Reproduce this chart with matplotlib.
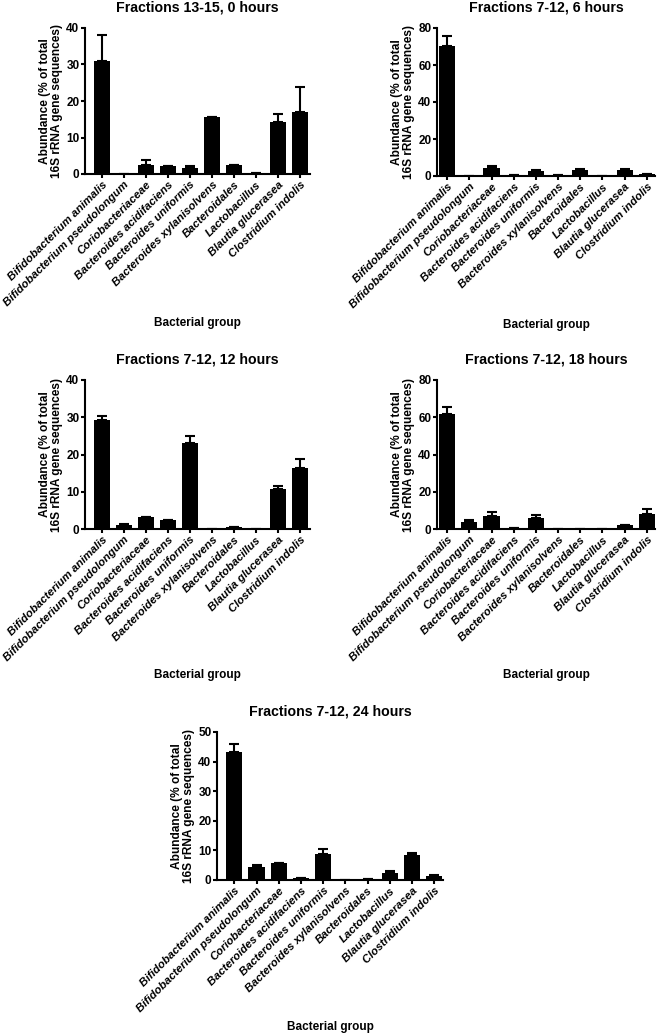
import numpy as np
from matplotlib import pyplot as plt

plt.rcParams['font.family'] = ['Liberation Sans', 'DejaVu Sans']
plt.rcParams['font.weight'] = 'bold'

groups = ['Bifidobacterium animalis', 'Bifidobacterium pseudolongum',
          'Coriobacteriaceae', 'Bacteroides acidifaciens', 'Bacteroides uniformis',
          'Bacteroides xylanisolvens', 'Bacteroidales', 'Lactobacillus',
          'Blautia glucerasea', 'Clostridium indolis']

titles = ['Fractions 13-15, 0 hours', 'Fractions 7-12, 6 hours',
          'Fractions 7-12, 12 hours', 'Fractions 7-12, 18 hours',
          'Fractions 7-12, 24 hours']

# mean abundance (%) and upper error (SEM) per panel
mean_0h = [31.0, 0.0, 2.5, 2.1, 1.6, 15.5, 2.5, 0.35, 14.3, 16.9]
err_0h = [7.0, 0.0, 1.2, 0.1, 0.7, 0.1, 0.0, 0.0, 2.2, 6.8]
mean_6h = [70.5, 0.0, 4.5, 0.4, 2.7, 0.7, 3.5, 0.0, 3.5, 0.9]
err_6h = [5.0, 0.0, 1.1, 0.0, 0.4, 0.0, 0.3, 0.0, 0.4, 0.0]
mean_12h = [29.2, 1.2, 3.2, 2.4, 23.1, 0.0, 0.55, 0.0, 10.7, 16.25]
err_12h = [1.1, 0.15, 0.15, 0.1, 1.8, 0.0, 0.0, 0.0, 0.8, 2.55]
mean_18h = [61.6, 3.6, 7.0, 0.4, 5.9, 0.0, 0.2, 0.0, 2.0, 7.9]
err_18h = [3.8, 1.0, 2.3, 0.0, 1.6, 0.0, 0.0, 0.0, 0.3, 2.6]
mean_24h = [43.3, 4.5, 5.6, 0.7, 8.9, 0.0, 0.4, 2.2, 8.3, 1.5]
err_24h = [2.8, 0.7, 0.2, 0.0, 1.5, 0.0, 0.0, 0.7, 0.9, 0.2]

means = [mean_0h, mean_6h, mean_12h, mean_18h, mean_24h]
errs = [err_0h, err_6h, err_12h, err_18h, err_24h]
ymax = [40, 80, 40, 80, 50]
ystep = [10, 20, 10, 20, 10]

W, H = 660, 1036
# axes boxes in pixels: left, top, right, bottom
boxes = [(85, 28, 310, 174), (437, 28, 655, 176),
         (85, 380, 310, 529), (437, 380, 655, 529),
         (217, 732, 443, 880)]
xlab_y = [323, 325, 675, 675, 1027]
xlims = [(-0.76, 9.45), (-0.46, 9.37), (-0.76, 9.45), (-0.46, 9.37), (-0.78, 9.4)]

fig = plt.figure(figsize=(W / 100, H / 100), dpi=100)
x = np.arange(len(groups))

for i in range(5):
    l, t, r, b = boxes[i]
    ax = fig.add_axes([l / W, 1 - b / H, (r - l) / W, (b - t) / H])
    m = np.array(means[i])
    e = np.array(errs[i])
    ax.errorbar(x, m, yerr=[np.zeros_like(e), e], fmt='none', ecolor='black',
                elinewidth=1.5, capsize=3.5, capthick=1.5, zorder=1)
    ax.bar(x, m, width=0.73, color='black', zorder=2)
    ax.set_xlim(*xlims[i])
    ax.set_ylim(0, ymax[i])
    ax.set_yticks(np.arange(0, ymax[i] + 1, ystep[i]))
    ax.set_xticks(x)
    ax.set_xticklabels(groups, rotation=45, ha='right', rotation_mode='anchor',
                       fontsize=8.2, style='italic', fontweight='bold')
    for lab in ax.get_yticklabels():
        lab.set_fontsize(8.5)
        lab.set_fontweight('bold')
    ax.spines['top'].set_visible(False)
    ax.spines['right'].set_visible(False)
    ax.spines['left'].set_linewidth(1.5)
    ax.spines['bottom'].set_linewidth(1.5)
    ax.tick_params(direction='out', length=3, width=1.5, pad=1)

    cx = (l + r) / 2 / W
    fig.text(cx, 1 - (t - 21) / H, titles[i], ha='center', va='center',
             fontsize=10.2, fontweight='bold')
    fig.text(cx, 1 - xlab_y[i] / H, 'Bacterial group', ha='center', va='center',
             fontsize=8.5, fontweight='bold')
    fig.text((l - 34) / W, 1 - (t + b) / 2 / H,
             'Abundance (% of total\n16S rRNA gene sequences)',
             rotation=90, ha='center', va='center', ma='center',
             fontsize=8.6, fontweight='bold', linespacing=1.1)

fig.savefig('out.png', dpi=100)
